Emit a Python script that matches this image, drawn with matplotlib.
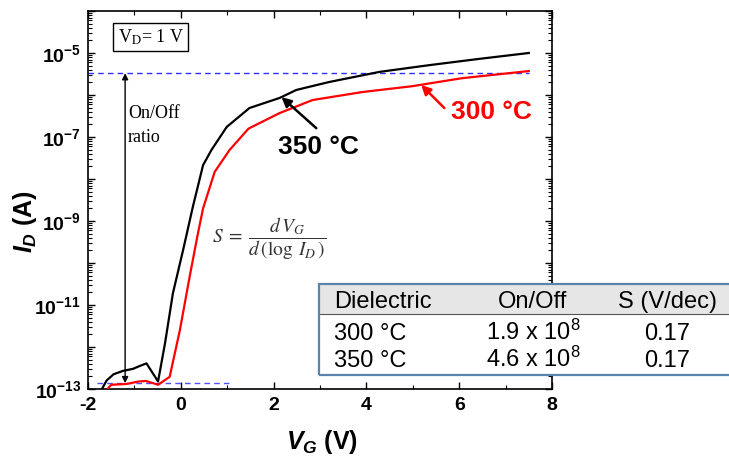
import numpy as np
import matplotlib
matplotlib.use("Agg")
import matplotlib.pyplot as plt
from matplotlib.patches import Rectangle
from matplotlib.lines import Line2D
from matplotlib.ticker import FixedLocator, FuncFormatter, LogLocator, NullFormatter

plt.rcParams['font.family'] = ['Liberation Sans', 'DejaVu Sans']
plt.rcParams['axes.unicode_minus'] = False
plt.rcParams['mathtext.fontset'] = 'custom'
plt.rcParams['mathtext.rm'] = 'Liberation Sans'
plt.rcParams['mathtext.bf'] = 'Liberation Sans:bold'
plt.rcParams['mathtext.it'] = 'Liberation Sans:bold:italic'

# ---- data ----
vg_350 = [-1.75, -1.6, -1.45, -1.25, -1.03, -0.88, -0.74, -0.49, -0.34, -0.17, 0.05, 0.26,
          0.48, 0.66, 0.99, 1.48, 2.13, 2.49, 3.2, 4.28, 5.35, 6.43, 7.5]
logid_350 = [-13.1, -12.8, -12.65, -12.57, -12.52, -12.45, -12.39, -12.82, -11.91, -10.72, -9.69, -8.66,
             -7.67, -7.31, -6.76, -6.31, -6.07, -5.88, -5.69, -5.45, -5.29, -5.14, -5.0]
vg_300 = [-1.62, -1.5, -1.17, -0.9, -0.75, -0.6, -0.49, -0.24, -0.02, 0.19, 0.37, 0.48, 0.73,
          1.05, 1.46, 2.13, 2.84, 3.91, 4.99, 6.06, 7.5]
logid_300 = [-13.05, -12.9, -12.88, -12.82, -12.81, -12.86, -12.9, -12.71, -11.6, -10.33, -9.29, -8.7, -7.83,
             -7.31, -6.8, -6.43, -6.12, -5.93, -5.79, -5.6, -5.43]
on_level = 3.3e-6
off_level = 1.38e-13
table_header = ["Dielectric", "On/Off", "S (V/dec)"]
table_rows = [["300 \u00b0C", r"1.9 x 10$^{8}$", "0.17"],
              ["350 \u00b0C", r"4.6 x 10$^{8}$", "0.17"]]

W, H = 729, 463
fig = plt.figure(figsize=(W / 100, H / 100), dpi=100)
ax = fig.add_axes([88 / W, 1 - 389 / H, (552 - 88) / W, (389 - 11) / H])

ax.plot(vg_350, 10 ** np.array(logid_350), color='black', lw=1.6, zorder=3)
ax.plot(vg_300, 10 ** np.array(logid_300), color='#ff0000', lw=1.6, zorder=3)

ax.set_yscale('log')
ax.set_xlim(-2, 8)
ax.set_ylim(1e-13, 1e-4)

ax.xaxis.set_major_locator(FixedLocator([-2, 0, 2, 4, 6, 8]))
ax.xaxis.set_minor_locator(FixedLocator([-1, 1, 3, 5, 7]))
ax.yaxis.set_major_locator(FixedLocator([10.0 ** e for e in range(-13, -3)]))
ax.yaxis.set_minor_locator(LogLocator(base=10, subs=np.arange(2, 10), numticks=30))
ax.yaxis.set_minor_formatter(NullFormatter())


def yfmt(v, pos):
    e = int(round(np.log10(v)))
    if e % 2 == 0:
        return ''
    return r'$\mathbf{10^{%d}}$' % e


ax.yaxis.set_major_formatter(FuncFormatter(yfmt))
ax.tick_params(which='both', direction='in', top=True, right=True)
ax.tick_params(which='major', length=5, width=1)
ax.tick_params(which='minor', length=3, width=0.8)
ax.tick_params(axis='x', labelsize=14, pad=6)
ax.tick_params(axis='y', labelsize=14, pad=5)
for lab in ax.get_xticklabels():
    lab.set_fontweight('bold')
for sp in ax.spines.values():
    sp.set_linewidth(1.2)

fig.text(25 / W, 1 - 222 / H, r'$I_D$ (A)', rotation=90, fontsize=18, fontweight='bold',
         ha='center', va='center')
fig.text(322 / W, 1 - 442 / H, r'$V_G$ (V)', fontsize=18, fontweight='bold',
         ha='center', va='center')

# dashed reference lines
ax.plot([-2, 7.5], [on_level, on_level], ls=(0, (4, 3)), color='#2f2fff', lw=1, zorder=2)
ax.plot([-1.8, 1.05], [off_level, off_level], ls=(0, (4, 3)), color='#5050ff', lw=1, zorder=2)

# On/Off double arrow
ax.annotate('', xy=(-1.2, on_level), xytext=(-1.2, off_level),
            arrowprops=dict(arrowstyle='<|-|>', color='black', lw=1, mutation_scale=9,
                            shrinkA=0, shrinkB=0))
ax.text(-1.14, 10 ** -6.43, 'On/Off', family='Liberation Serif', fontsize=13, va='center', ha='left')
ax.text(-1.14, 10 ** -7.0, 'ratio', family='Liberation Serif', fontsize=13, va='center', ha='left')

# V_D box
ax.text(-0.65, 10 ** -4.62, r'V$_{\mathrm{D}}$= 1 V', family='Liberation Serif', fontsize=13,
        math_fontfamily='stix', ha='center', va='center',
        bbox=dict(boxstyle='square,pad=0.25', fc='white', ec='black', lw=1))

# formula
ax.text(0.67, 10 ** -9.43, r'$S\;=\;\dfrac{d\,V_G}{d\,\left(\log\; I_D\,\right)}$', fontsize=14,
        math_fontfamily='stix', ha='left', va='center', color='#333333')

# curve labels with arrows
ax.annotate('', xy=(2.17, 10 ** -6.05), xytext=(2.92, 10 ** -6.79),
            arrowprops=dict(arrowstyle='-|>', color='black', lw=1.8, mutation_scale=14,
                            shrinkA=0, shrinkB=0))
ax.text(2.97, 10 ** -7.24, '350 \u00b0C', fontsize=19, fontweight='bold', color='black',
        ha='center', va='center')
ax.annotate('', xy=(5.18, 10 ** -5.76), xytext=(5.68, 10 ** -6.31),
            arrowprops=dict(arrowstyle='-|>', color='#ff0000', lw=1.8, mutation_scale=14,
                            shrinkA=0, shrinkB=0))
ax.text(6.69, 10 ** -6.40, '300 \u00b0C', fontsize=19, fontweight='bold', color='#ff0000',
        ha='center', va='center')

# table (figure pixel coordinates)
def fx(x):
    return x / W


def fy(y):
    return 1 - y / H


tx0, tx1, ty0, ty1, thead = 319, 740, 284, 375, 314
fig.add_artist(Rectangle((fx(tx0), fy(ty1)), fx(tx1) - fx(tx0), fy(ty0) - fy(ty1),
                         transform=fig.transFigure, fc='white', ec='none', zorder=5))
fig.add_artist(Rectangle((fx(tx0), fy(thead)), fx(tx1) - fx(tx0), fy(ty0) - fy(thead),
                         transform=fig.transFigure, fc='#e6e6e6', ec='none', zorder=6))
fig.add_artist(Line2D([fx(tx0), fx(tx1)], [fy(thead), fy(thead)], transform=fig.transFigure,
                      color='#555555', lw=0.8, zorder=7))
fig.add_artist(Rectangle((fx(tx0), fy(ty1)), fx(tx1) - fx(tx0), fy(ty0) - fy(ty1),
                         transform=fig.transFigure, fc='none', ec='#5b84ad', lw=1.6, zorder=8))
col_x = [334, 533, 667]
col_ha = ['left', 'center', 'center']
row_base = [308, 340, 367]
for j, t in enumerate(table_header):
    fig.text(fx(col_x[j]), fy(row_base[0]), t, fontsize=17, ha=col_ha[j], va='baseline', zorder=9)
for i, row in enumerate(table_rows):
    for j, t in enumerate(row):
        fig.text(fx(col_x[j]), fy(row_base[i + 1]), t, fontsize=17, ha=col_ha[j], va='baseline', zorder=9)

fig.savefig('out.png', dpi=100)
